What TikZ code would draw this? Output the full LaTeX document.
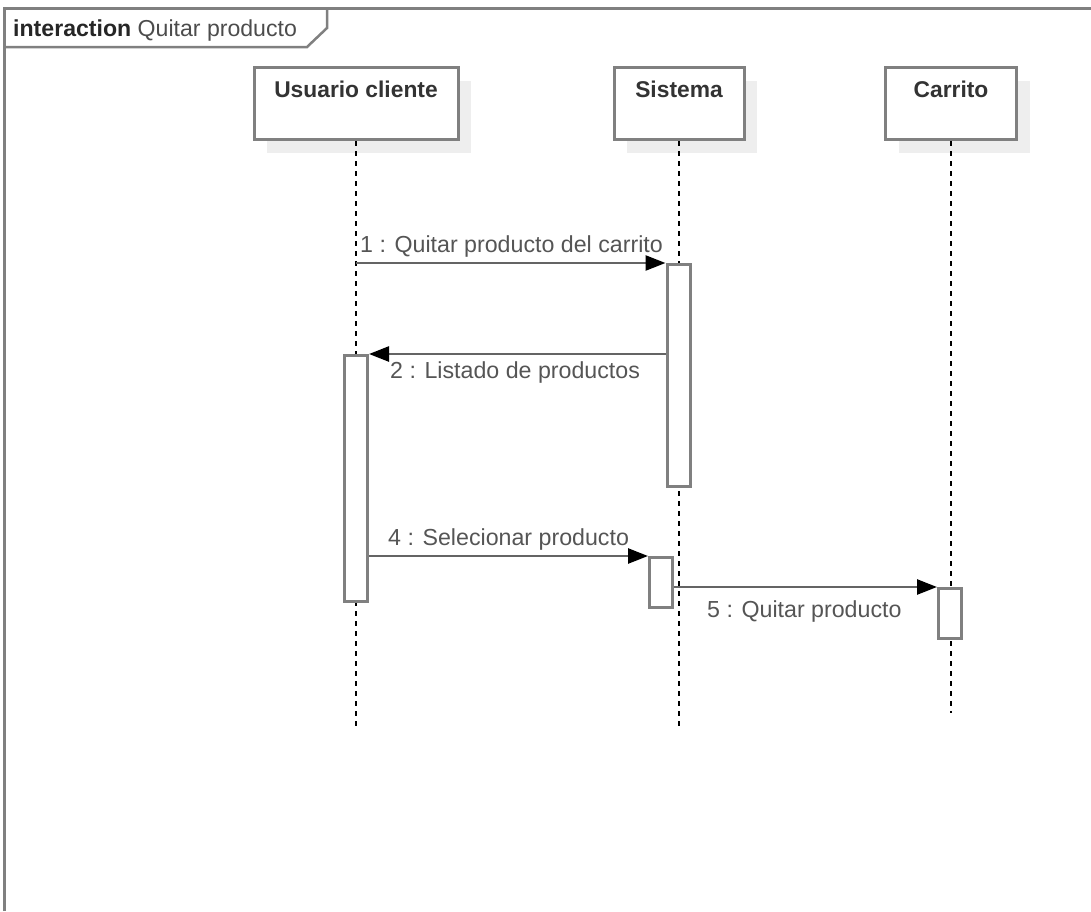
\documentclass[tikz,border=0pt]{standalone}
\usepackage{fontspec}
\setmainfont{Liberation Sans}
\usepackage{xcolor}
\usepackage{tikz}
\usetikzlibrary{arrows.meta,shadows}

\definecolor{linegray}{RGB}{128,128,128}
\definecolor{msggray}{RGB}{100,100,100}
\definecolor{textgray}{RGB}{85,85,85}
\definecolor{titlegray}{RGB}{51,51,51}
\definecolor{shadowgray}{RGB}{238,238,238}

\tikzset{
    head/.style={draw=linegray, line width=3pt, fill=white, minimum width=#1,
        minimum height=72pt, inner sep=0pt, anchor=north,
        drop shadow={shadow xshift=13pt, shadow yshift=-13pt, fill=shadowgray, opacity=1}},
    headtitle/.style={text=titlegray, font=\fontsize{22.8}{27}\selectfont\bfseries,
        anchor=base, inner sep=0pt},
    lifeline/.style={black, line width=1.3pt, dash pattern=on 5pt off 5pt},
    actbar/.style={draw=linegray, line width=3pt, fill=white, minimum width=23pt,
        minimum height=#1, inner sep=0pt, anchor=north},
    msg/.style={draw=msggray, line width=2.5pt,
        -{Triangle[length=20pt,width=15pt,color=black]}},
    msglabel/.style={text=textgray, font=\fontsize{23.2}{27}\selectfont,
        anchor=base west, inner sep=0pt},
}

\begin{document}
\begin{tikzpicture}[x=1pt,y=-1pt]
    \useasboundingbox (0,0) rectangle (1091,911);

    % Frame
    \draw[draw=linegray, line width=3pt] (4,911) -- (4,8) -- (1091,8);
    \draw[draw=linegray, line width=2.5pt] (4,47) -- (307,47) -- (327,28) -- (327,8);
    \node[anchor=base west, inner sep=0pt, font=\fontsize{23.1}{27}\selectfont] (frametitle)
        at (13,36) {\textcolor{black!85}{\bfseries interaction} \textcolor{textgray!90!black}{Quitar producto}};

    % Heads and lifelines
    \foreach \n/\x/\w/\e/\t in {user/356/204/727/Usuario cliente,
                                sys/679/130/727/Sistema,
                                cart/951/131/713/Carrito} {
        \node[head=\w pt] (\n) at (\x,66) {};
        \node[headtitle] (\n-title) at ([yshift=-31pt]\n.north) {\t};
        \coordinate (\n-end) at (\x,\e);
        \draw[lifeline] (\n.south) -- (\n-end);
    }

    % Activations
    \node[actbar=222pt] (sysact1) at (678.5,263) {};
    \node[actbar=246pt] (useract) at (356,354) {};
    \node[actbar=50pt] (sysact2) at (661,556) {};
    \node[actbar=50pt] (cartact) at (950,587) {};

    % Messages
    \draw[msg] (user.south |- sysact1.north) -- (sysact1.north west);
    \node[msglabel] (m1) at (360,252) {1 : Quitar producto del carrito};

    \draw[msg] (sysact1.west |- useract.north) -- (useract.north east);
    \node[msglabel] (m2) at (390,378) {2 : Listado de productos};

    \draw[msg] (useract.east |- sysact2.north) -- (sysact2.north west);
    \node[msglabel] (m4) at (388,545) {4 : Selecionar producto};

    \draw[msg] (sysact2.east |- cartact.north) -- (cartact.north west);
    \node[msglabel] (m5) at (707,617) {5 : Quitar producto};

\end{tikzpicture}
\end{document}
